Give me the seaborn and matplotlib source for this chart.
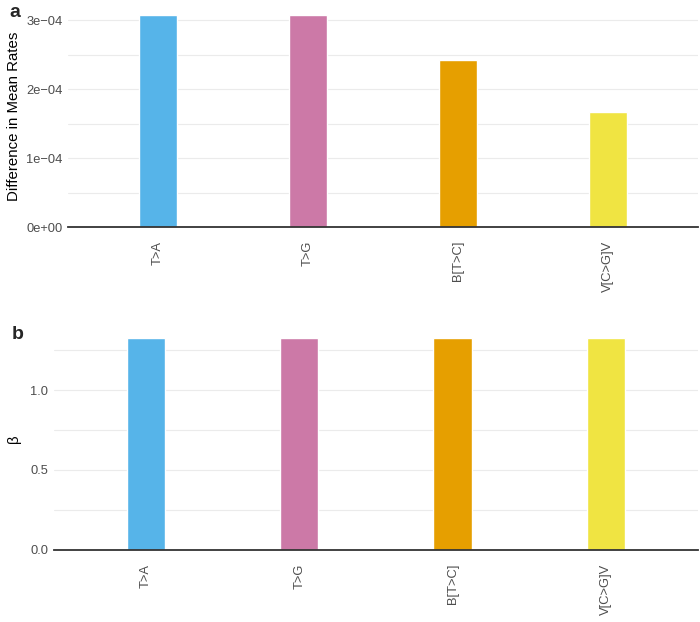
import matplotlib
matplotlib.use("Agg")
import matplotlib.pyplot as plt
import seaborn as sns
import numpy as np

# data
categories = ["T>A", "T>G", "B[T>C]", "V[C>G]V"]
colors = ["#56B4E9", "#CC79A7", "#E69F00", "#F0E442"]

diff_rates = [3.075e-4, 3.075e-4, 2.42e-4, 1.665e-4]
diff_ticks = [0, 1e-4, 2e-4, 3e-4]
diff_ticklabels = ["0e+00", "1e\u221204", "2e\u221204", "3e\u221204"]
diff_minor = [0.5e-4, 1.5e-4, 2.5e-4]

beta = [1.326, 1.326, 1.326, 1.326]
beta_ticks = [0.0, 0.5, 1.0]
beta_ticklabels = ["0.0", "0.5", "1.0"]
beta_minor = [0.25, 0.75, 1.25]

sns.set_theme(style="white")
plt.rcParams["font.family"] = ["Liberation Sans", "DejaVu Sans"]


def bar_panel(ax, values, ticks, ticklabels, minor, ylim, ylabel):
    sns.barplot(x=categories, y=values, hue=categories, palette=colors,
                width=0.25, ax=ax, legend=False, saturation=1)
    ax.set_xlim(-0.6, 3.6)
    ax.set_ylim(*ylim)
    ax.set_yticks(ticks)
    ax.set_yticklabels(ticklabels)
    ax.set_yticks(minor, minor=True)
    ax.grid(axis="y", which="both", color="#EBEBEB", lw=0.8)
    ax.set_axisbelow(True)
    for s in ["top", "right", "left"]:
        ax.spines[s].set_visible(False)
    ax.spines["bottom"].set_color("#333333")
    ax.spines["bottom"].set_linewidth(1.3)
    ax.tick_params(axis="both", which="both", length=0, labelsize=9.3,
                   labelcolor="#4D4D4D", pad=4)
    ax.tick_params(axis="x", rotation=90, pad=10)
    ax.set_ylabel(ylabel, fontsize=10.8, color="black")
    ax.set_xlabel("")


fig = plt.figure(figsize=(7, 6.22), dpi=100)

ax_a = fig.add_axes([0.097, 0.635, 0.9, 0.3545])
bar_panel(ax_a, diff_rates, diff_ticks, diff_ticklabels, diff_minor,
          (0, 3.2e-4), "Difference in Mean Rates")
ax_a.yaxis.set_label_coords(-0.074, 0.5)

ax_b = fig.add_axes([0.077, 0.1158, 0.92, 0.3585])
bar_panel(ax_b, beta, beta_ticks, beta_ticklabels, beta_minor,
          (0, 1.394), "\u03b2")
ax_b.yaxis.set_label_coords(-0.051, 0.5)

fig.text(0.014, 0.98, "a", fontsize=14, fontweight="bold", va="center")
fig.text(0.017, 0.462, "b", fontsize=14, fontweight="bold", va="center")

fig.savefig("out.png", dpi=100)
